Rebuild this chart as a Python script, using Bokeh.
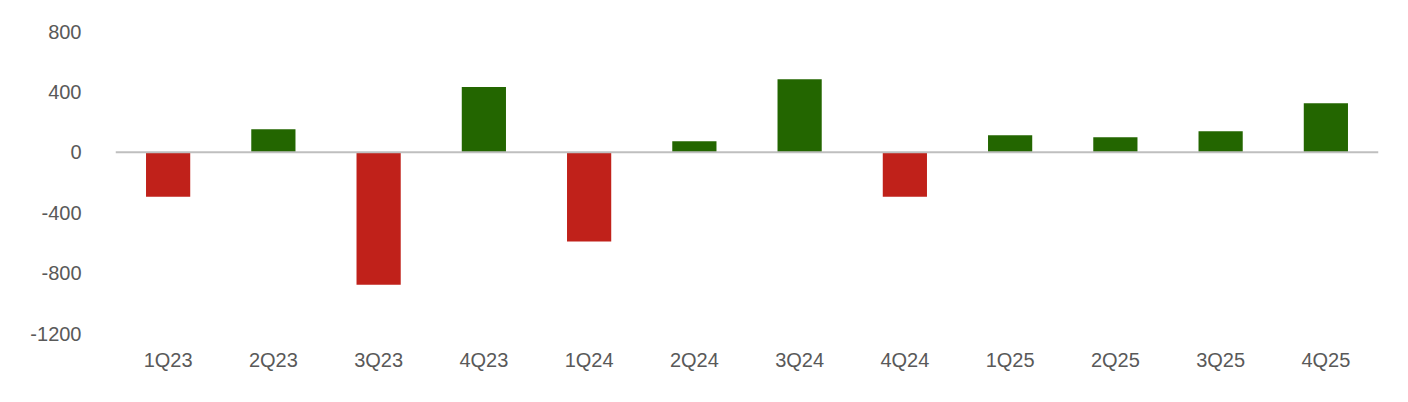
from bokeh.plotting import figure
from bokeh.models import FactorRange, Range1d, Span, ColumnDataSource, FixedTicker, PrintfTickFormatter
from bokeh.embed import file_html
from bokeh.resources import INLINE

quarters = ["1Q23", "2Q23", "3Q23", "4Q23", "1Q24", "2Q24", "3Q24", "4Q24",
            "1Q25", "2Q25", "3Q25", "4Q25"]
values = [-295, 152, -877, 433, -590, 73, 484, -295, 113, 100, 139, 325]
y_ticks = [-1200, -800, -400, 0, 400, 800]

RED = "#C0211A"
GREEN = "#236600"
colors = [RED if v < 0 else GREEN for v in values]

src = ColumnDataSource(dict(x=quarters, top=values, color=colors))

p = figure(x_range=FactorRange(*quarters), y_range=Range1d(-1200, 800),
           width=1392, height=386, output_backend="svg", toolbar_location=None,
           min_border_left=115, min_border_right=14, min_border_top=31,
           min_border_bottom=53)
p.outline_line_color = None
p.xgrid.grid_line_color = None
p.ygrid.grid_line_color = None
p.background_fill_color = "white"

p.vbar(x="x", top="top", bottom=0, width=0.42, fill_color="color",
       line_color=None, source=src)

p.add_layout(Span(location=0, dimension="width", line_color="#BFBFBF",
                  line_width=2))

font = "Liberation Sans"
for ax in (p.xaxis[0], p.yaxis[0]):
    ax.axis_line_color = None
    ax.major_tick_line_color = None
    ax.minor_tick_line_color = None
    ax.major_label_text_font = font
    ax.major_label_text_font_size = "20px"
    ax.major_label_text_color = "#595959"

p.yaxis.ticker = FixedTicker(ticks=y_ticks)
p.yaxis.formatter = PrintfTickFormatter(format="%d")
p.yaxis.major_label_standoff = 28
p.xaxis.major_label_standoff = 9

open("out.html", "w").write(file_html(p, INLINE))
